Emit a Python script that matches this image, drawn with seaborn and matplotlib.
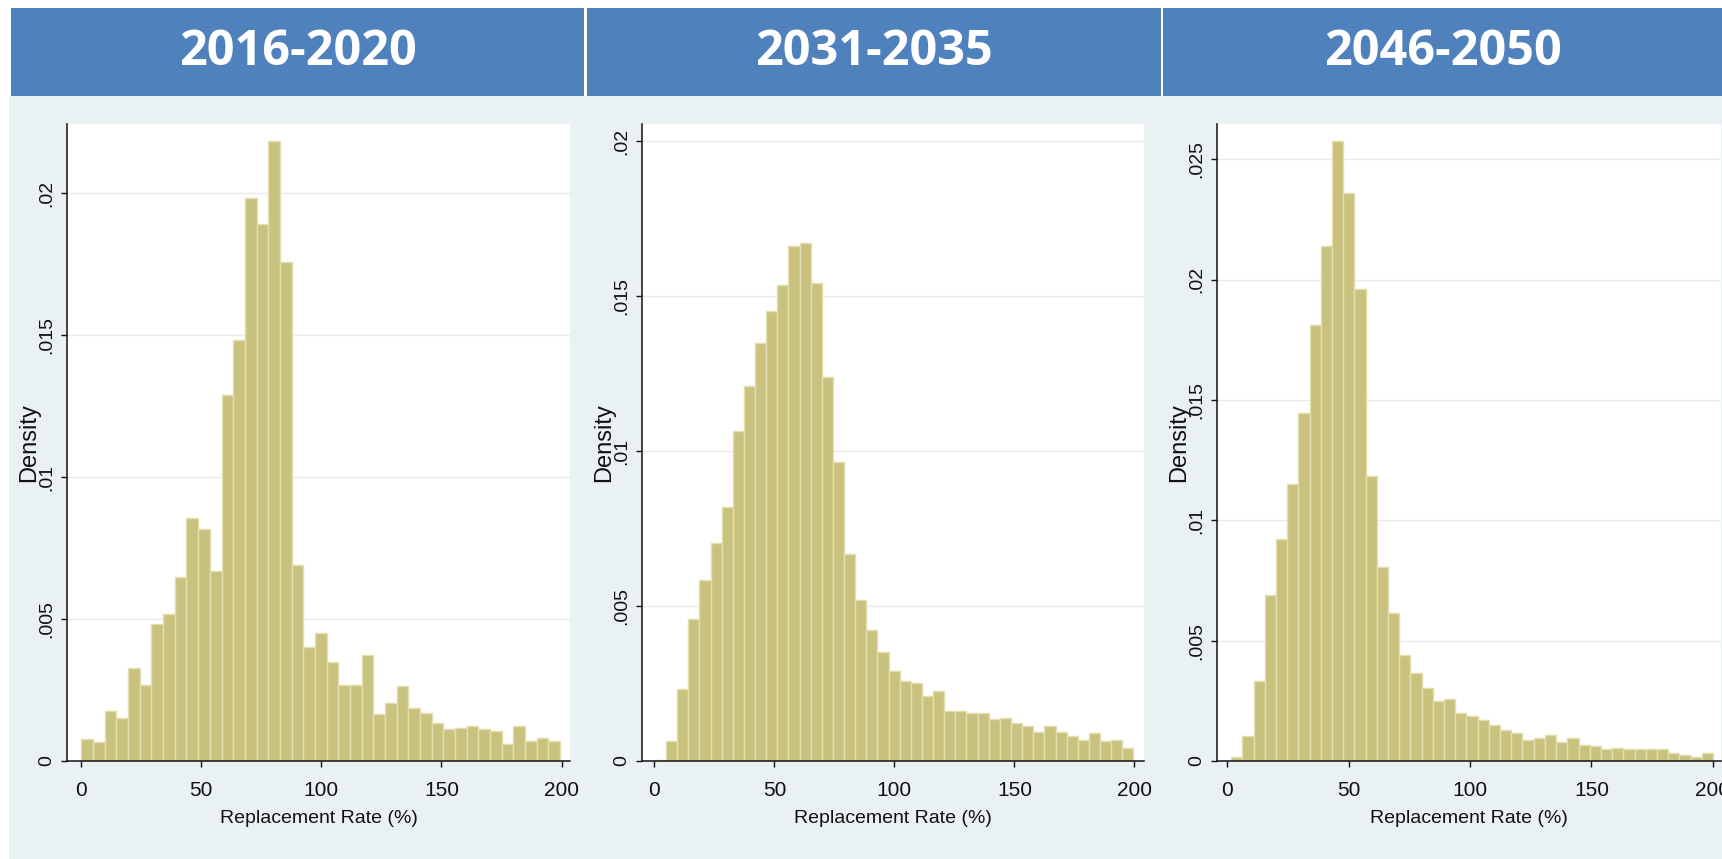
import numpy as np
import pandas as pd
import matplotlib
matplotlib.use("Agg")
import matplotlib.pyplot as plt
import seaborn as sns
from matplotlib.patches import Rectangle

# ---------------- data ----------------
periods = ["2016-2020", "2031-2035", "2046-2050"]

density_2016_2020 = [0.00076, 0.00067, 0.00176, 0.00153, 0.00327, 0.00269, 0.00484, 0.00519,
                     0.00647, 0.00857, 0.00817, 0.00670, 0.01289, 0.01482, 0.01983, 0.01890,
                     0.02182, 0.01756, 0.00689, 0.00403, 0.00450, 0.00350, 0.00268, 0.00268,
                     0.00373, 0.00164, 0.00205, 0.00264, 0.00188, 0.00170, 0.00135, 0.00112,
                     0.00117, 0.00123, 0.00112, 0.00106, 0.00059, 0.00123, 0.00070, 0.00082,
                     0.00069]

density_2031_2035 = [0.00003, 0.00066, 0.00231, 0.00459, 0.00584, 0.00702, 0.00819, 0.01066,
                     0.01209, 0.01350, 0.01451, 0.01536, 0.01660, 0.01671, 0.01542, 0.01238,
                     0.00965, 0.00669, 0.00520, 0.00423, 0.00353, 0.00290, 0.00257, 0.00253,
                     0.00210, 0.00225, 0.00161, 0.00161, 0.00156, 0.00156, 0.00134, 0.00140,
                     0.00124, 0.00113, 0.00092, 0.00114, 0.00092, 0.00080, 0.00069, 0.00091,
                     0.00066, 0.00069, 0.00042]

density_2046_2050 = [0.00016, 0.00103, 0.00332, 0.00688, 0.00923, 0.01150, 0.01445, 0.01811,
                     0.02142, 0.02575, 0.02360, 0.01962, 0.01186, 0.00806, 0.00613, 0.00441,
                     0.00365, 0.00303, 0.00248, 0.00256, 0.00198, 0.00186, 0.00171, 0.00151,
                     0.00130, 0.00116, 0.00088, 0.00094, 0.00108, 0.00080, 0.00096, 0.00068,
                     0.00062, 0.00048, 0.00055, 0.00048, 0.00048, 0.00048, 0.00048, 0.00032,
                     0.00027, 0.00018, 0.00034]

densities = [density_2016_2020, density_2031_2035, density_2046_2050]
range_start = [0.3, 0.2, 1.7]        # lowest replacement rate in each sample
range_end = [199.3, 199.6, 200.0]    # highest replacement rate in each sample

x_ticks = [0, 50, 100, 150, 200]
x_tick_labels = ["0", "50", "100", "150", "200"]
y_ticks = [[0, 0.005, 0.01, 0.015, 0.02],
           [0, 0.005, 0.01, 0.015, 0.02],
           [0, 0.005, 0.01, 0.015, 0.02, 0.025]]
y_tick_labels = [["0", ".005", ".01", ".015", ".02"],
                 ["0", ".005", ".01", ".015", ".02"],
                 ["0", ".005", ".01", ".015", ".02", ".025"]]
x_title = "Replacement Rate (%)"
y_title = "Density"

# ---------------- styling / layout ----------------
W, H = 1722, 859
BAR = "#C9C27E"
BAR_EDGE = "#E3DEAE"
HEADER = "#4F81BD"
REGION = "#EAF1F3"
GRID = "#EAEAEA"

axes_px = [(67, 570), (641.6, 1144), (1217, 1721)]
xlims = [(-5.7, 203.45), (-5.33, 204.0), (-4.12, 203.3)]
ylims = [(0, 0.02243), (0, 0.02055), (0, 0.02647)]
header_px = [(11, 584), (587, 1161), (1163, 1722)]
plot_top, plot_bottom = 124, 761

sns.set_theme(style="white")
plt.rcParams["font.family"] = ["Liberation Sans", "DejaVu Sans"]
narrow = ["Liberation Sans Narrow", "Liberation Sans", "DejaVu Sans"]

fig = plt.figure(figsize=(W / 100, H / 100), dpi=100, facecolor="white")

# graph region background and header bands
fig.patches.append(Rectangle((9 / W, 0), 1 - 9 / W, 1 - 96 / H, transform=fig.transFigure,
                             facecolor=REGION, edgecolor="none", zorder=-5))
for (x0, x1), label in zip(header_px, periods):
    fig.patches.append(Rectangle((x0 / W, 1 - 96 / H), (x1 - x0) / W, (96 - 8) / H,
                                 transform=fig.transFigure, facecolor=HEADER,
                                 edgecolor="none", zorder=-4))
    fig.text((x0 + x1) / 2 / W, 1 - 65 / H, label, color="white", fontsize=35,
             fontweight="bold", family=["Open Sans", "DejaVu Sans"],
             ha="center", va="baseline", zorder=5)

for i in range(3):
    x0, x1 = axes_px[i]
    ax = fig.add_axes([x0 / W, 1 - plot_bottom / H, (x1 - x0) / W, (plot_bottom - plot_top) / H])
    ax.set_zorder(2)
    ax.set_facecolor("white")
    d = densities[i]
    edges = np.linspace(range_start[i], range_end[i], len(d) + 1).tolist()
    centers = [(a + b) / 2 for a, b in zip(edges[:-1], edges[1:])]
    df = pd.DataFrame({"rate": centers, "density": d})
    sns.histplot(data=df, x="rate", weights="density", bins=edges, stat="count",
                 color=BAR, edgecolor=BAR_EDGE, linewidth=1.0, alpha=1.0, ax=ax, zorder=2)

    ax.set_xlim(*xlims[i])
    ax.set_ylim(*ylims[i])
    ax.set_axisbelow(True)
    ax.yaxis.grid(True, color=GRID, linewidth=1.0, zorder=0)
    ax.xaxis.grid(False)

    for s in ("top", "right"):
        ax.spines[s].set_visible(False)
    for s in ("left", "bottom"):
        ax.spines[s].set_color("#111111")
        ax.spines[s].set_linewidth(1.1)
        ax.spines[s].set_zorder(5)

    ax.set_xticks(x_ticks)
    ax.set_xticklabels(x_tick_labels, family=narrow, fontsize=15, color="#111111")
    ax.set_yticks(y_ticks[i])
    ax.set_yticklabels(y_tick_labels[i], fontsize=14, color="#111111", rotation=90,
                       va="center")
    ax.tick_params(axis="x", direction="out", length=4.5, width=1.0, color="#111111",
                   pad=10, bottom=True)
    ax.tick_params(axis="y", direction="out", length=4.5, width=1.0, color="#111111",
                   pad=4, left=True)

    ax.set_xlabel(x_title, family=narrow, fontsize=14, color="#111111")
    ax.xaxis.set_label_coords(0.5, -0.077)
    ax.set_ylabel(y_title, fontsize=17, color="#111111")
    ax.yaxis.set_label_coords(-0.053, 0.5)

fig.savefig("out.png", dpi=100, facecolor="white")
